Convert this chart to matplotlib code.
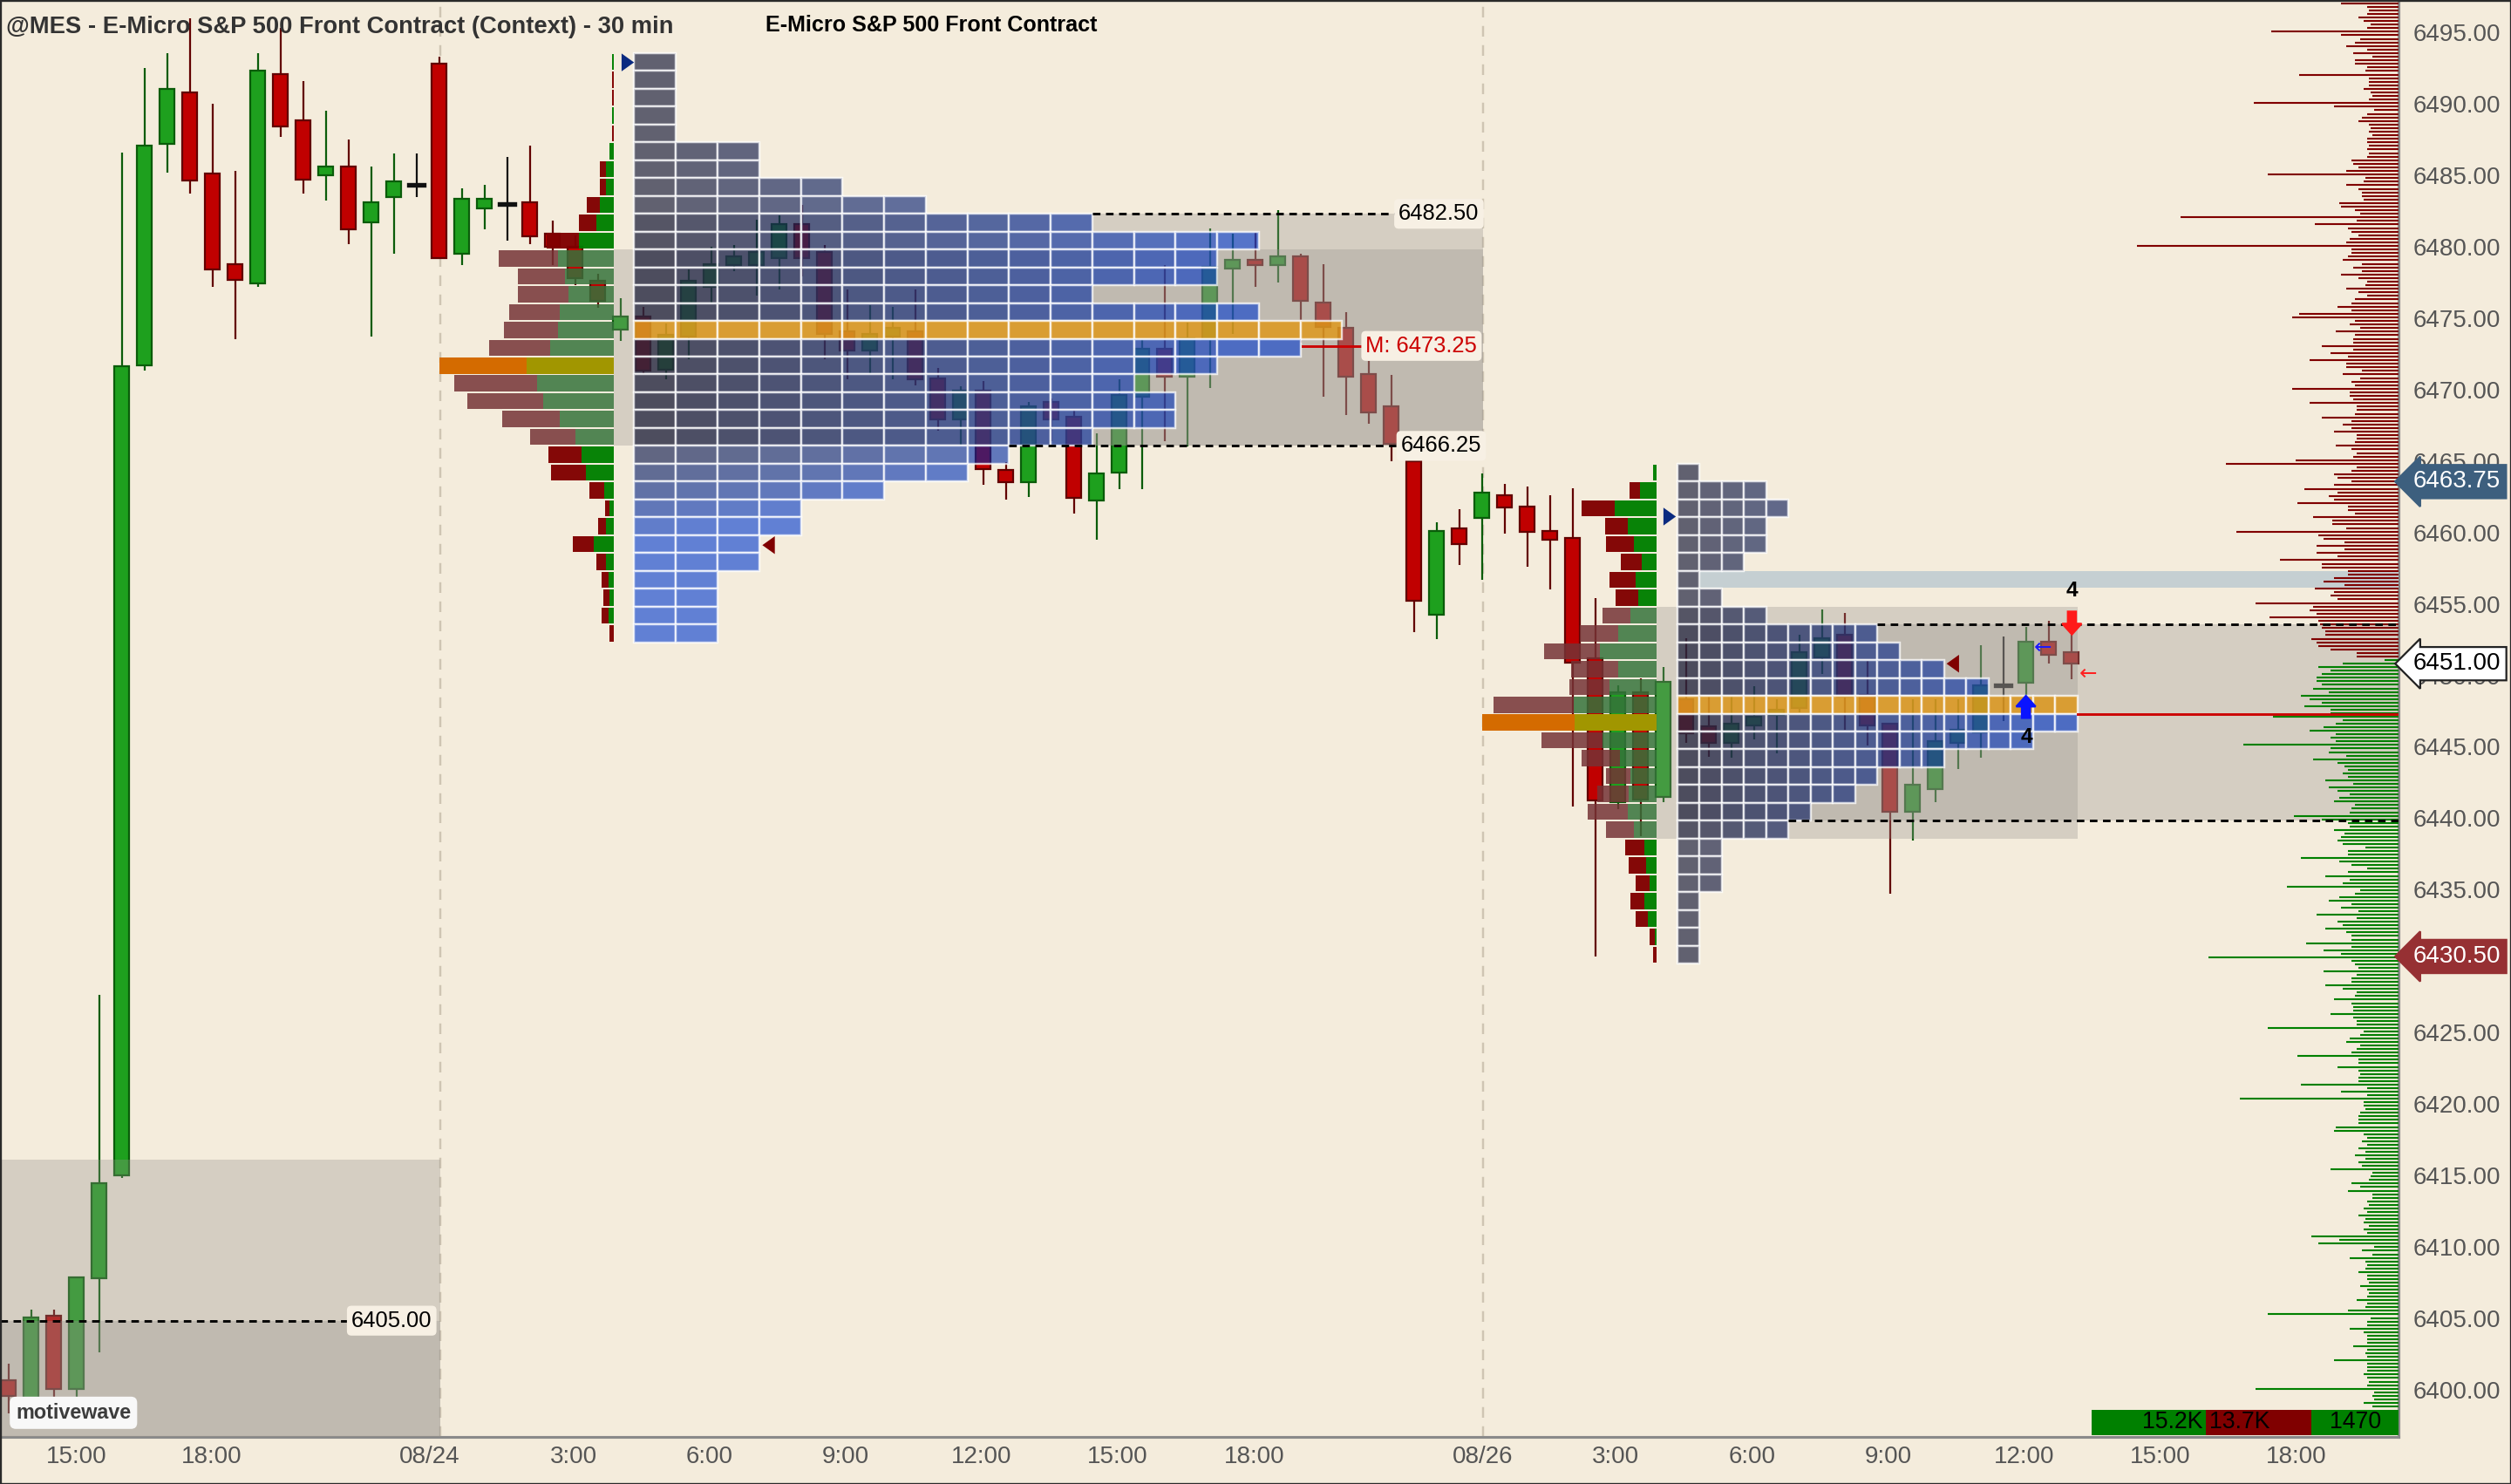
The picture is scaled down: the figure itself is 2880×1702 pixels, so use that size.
"""MES 30-min context chart: candles, session TPO / volume profiles, price histogram."""

import matplotlib
matplotlib.use("Agg")
import matplotlib.pyplot as plt
import matplotlib.transforms as mtransforms
import numpy as np
from matplotlib.collections import LineCollection
from matplotlib.patches import FancyArrow, Polygon, Rectangle

plt.rcParams["font.family"] = ["Liberation Sans", "DejaVu Sans"]

# ---------------- candles (30 min bars) ----------------
BARS = list(range(92))
OPEN = [6400.8, 6399.5, 6405.35, 6400.2, 6407.97, 6415.2, 6471.9, 6487.4, 6491.0, 6485.3,
        6479.0, 6477.6, 6492.3, 6489.05, 6485.2, 6485.8, 6481.9, 6483.65, 6484.5, 6493.0,
        6479.7, 6482.9, 6483.2, 6483.3, 6481.1, 6480.2, 6477.8, 6474.4, 6475.3, 6471.6,
        6473.9, 6477.4, 6478.9, 6478.9, 6479.4, 6481.8, 6479.8, 6474.3, 6472.9, 6473.9,
        6474.3, 6471.0, 6468.1, 6470.1, 6464.55, 6463.7, 6469.3, 6468.3, 6462.4, 6464.4,
        6469.7, 6473.05, 6471.1, 6473.7, 6478.65, 6479.3, 6478.9, 6479.5, 6476.3, 6474.5,
        6471.3, 6469.0, 6465.2, 6454.4, 6460.5, 6461.2, 6462.8, 6462.0, 6460.3, 6459.8,
        6451.35, 6441.3, 6449.0, 6441.65, 6448.5, 6446.6, 6445.45, 6446.65, 6447.4, 6447.9,
        6451.45, 6453.0, 6448.8, 6446.8, 6440.66, 6442.2, 6445.45, 6446.2, 6449.5, 6449.65,
        6452.55, 6451.8]
HIGH = [6402.0, 6405.8, 6405.8, 6408.1, 6427.8, 6486.8, 6492.7, 6493.75, 6496.2, 6490.2,
        6485.5, 6493.75, 6495.5, 6491.8, 6489.7, 6487.7, 6485.8, 6486.75, 6486.75, 6493.5,
        6484.3, 6484.5, 6486.5, 6487.25, 6482.0, 6481.0, 6478.3, 6476.6, 6476.0, 6474.8,
        6478.6, 6480.2, 6480.3, 6482.1, 6482.4, 6483.1, 6480.3, 6477.2, 6476.1, 6476.0,
        6477.2, 6471.7, 6470.4, 6470.8, 6465.1, 6469.3, 6469.6, 6468.8, 6467.1, 6470.9,
        6473.7, 6478.9, 6474.9, 6481.5, 6481.1, 6481.2, 6482.75, 6479.7, 6479.0, 6475.6,
        6472.2, 6471.2, 6465.5, 6460.9, 6461.8, 6464.3, 6463.6, 6463.4, 6462.8, 6463.3,
        6455.6, 6449.5, 6450.0, 6450.75, 6452.8, 6448.7, 6448.7, 6449.4, 6448.5, 6453.0,
        6454.8, 6454.55, 6451.2, 6446.8, 6448.5, 6448.5, 6448.5, 6452.3, 6452.9, 6453.6,
        6454.0, 6453.0]
LOW = [6398.5, 6399.2, 6399.6, 6399.5, 6402.8, 6415.0, 6471.5, 6485.4, 6483.9, 6477.4,
       6473.7, 6477.4, 6487.9, 6483.9, 6483.4, 6480.4, 6473.9, 6479.7, 6483.65, 6479.4,
       6478.9, 6481.4, 6480.6, 6480.4, 6478.9, 6477.5, 6475.9, 6473.6, 6471.3, 6470.9,
       6472.3, 6476.2, 6478.5, 6476.8, 6477.2, 6478.1, 6472.3, 6470.9, 6471.2, 6470.9,
       6470.5, 6467.3, 6466.2, 6463.5, 6462.5, 6462.7, 6466.6, 6461.5, 6459.7, 6463.2,
       6463.2, 6466.6, 6466.2, 6470.3, 6474.1, 6477.4, 6477.7, 6473.5, 6469.7, 6468.4,
       6467.8, 6465.2, 6453.2, 6452.7, 6457.9, 6456.9, 6460.1, 6457.8, 6456.2, 6441.0,
       6430.5, 6440.8, 6438.9, 6441.3, 6445.45, 6444.5, 6444.4, 6445.7, 6444.75, 6447.6,
       6450.3, 6446.4, 6445.3, 6434.9, 6438.6, 6441.3, 6443.6, 6444.4, 6447.0, 6448.0,
       6451.0, 6449.9]
CLOSE = [6399.7, 6405.2, 6400.2, 6408.05, 6414.6, 6471.8, 6487.3, 6491.25, 6484.85, 6478.6,
         6477.9, 6492.5, 6488.6, 6484.9, 6485.8, 6481.4, 6483.3, 6484.75, 6484.5, 6479.4,
         6483.55, 6483.55, 6483.2, 6480.9, 6480.2, 6478.0, 6476.4, 6475.3, 6471.5, 6474.0,
         6477.8, 6479.0, 6479.5, 6479.8, 6481.8, 6479.4, 6474.1, 6472.9, 6474.1, 6474.5,
         6470.9, 6468.1, 6470.1, 6464.65, 6463.7, 6469.0, 6468.1, 6462.6, 6464.3, 6469.8,
         6473.05, 6471.1, 6473.8, 6478.8, 6479.3, 6478.9, 6479.5, 6476.4, 6474.6, 6471.1,
         6468.6, 6466.4, 6455.4, 6460.3, 6459.4, 6463.0, 6461.95, 6460.2, 6459.65, 6451.1,
         6441.4, 6449.0, 6441.5, 6449.75, 6446.15, 6445.45, 6446.8, 6447.3, 6447.8, 6451.8,
         6452.8, 6448.7, 6446.65, 6440.66, 6442.5, 6445.6, 6446.35, 6449.5, 6449.5, 6452.55,
         6451.6, 6451.0]

TIME_TICKS = [3.39, 9.33, 18.95, 25.29, 31.30, 37.30, 43.31, 49.31, 55.32,
              65.42, 71.28, 77.29, 83.29, 89.30, 95.30, 101.31]
TIME_LABELS = ["15:00", "18:00", "08/24", "3:00", "6:00", "9:00", "12:00", "15:00", "18:00",
               "08/26", "3:00", "6:00", "9:00", "12:00", "15:00", "18:00"]
# 6430.00 sits fully under the 6430.50 tag in the reference, so it is not drawn
PRICE_TICKS = [p for p in range(6400, 6496, 5) if p != 6430]
DAY_BREAKS = [19.43, 65.42]

# ---------------- 08/24 session profile (1.25 pt rows from 6493.75 down) ----------------
S1_TOP = 6493.75
S1_SELL = [0.5, 2, 2, 0, 2, 0, 7, 7, 15, 20, 37, 68, 54, 58, 58, 62, 70, 100, 95, 87,
           66, 52, 38, 40, 17, 5, 9, 24, 11, 8, 7, 8, 5]
S1_BUY = [1.5, 0, 0, 2, 0, 4.5, 9, 9, 16, 20, 40, 64, 56, 52, 62, 64, 73, 100, 88, 81,
          62, 44, 37, 32, 11, 5, 9, 23, 9, 6, 5, 6, 0]
S1_TPO = [1, 1, 1, 1, 1, 3, 3, 5, 7, 11, 15, 14, 14, 11, 15, 17, 16, 14, 12, 13, 13,
          11, 9, 8, 6, 4, 4, 3, 3, 2, 2, 2, 2]
S1_VA = (11, 21)
S1_VPOC = 17
S1_TPOC = 15

# ---------------- 08/26 session profile (1.25 pt rows from 6465.00 down) ----------------
S2_TOP = 6465.0
S2_SELL = [0, 12, 38, 26, 32, 24, 30, 26, 32, 44, 64, 54, 46, 92, 106, 70, 44, 28, 36, 46,
           32, 22, 20, 16, 16, 14, 6, 3.4]
S2_BUY = [3.4, 19, 48, 33, 26, 17, 24, 21, 30, 44, 65, 44, 54, 95, 94, 62, 42, 30, 32, 33,
          26, 14, 12, 8, 14, 10, 2, 0]
S2_TPO = [1, 4, 5, 4, 4, 3, 1, 2, 4, 9, 10, 12, 14, 18, 18, 16, 12, 9, 8, 6, 5, 2, 2, 2,
          1, 1, 1, 1]
S2_VA = (8, 20)
S2_VPOC = 14
S2_TPOC = 13

# ---------------- volume-at-price histogram at the price axis ----------------
RED_HIST = [66, 36, 34, 36, 46, 40, 32, 36, 146, 66, 44, 50, 60, 36, 52, 30, 50, 50, 36, 38,
            114, 34, 34, 34, 40, 32, 30, 34, 166, 74, 28, 36, 42, 46, 34, 32, 34, 30, 36, 36,
            34, 36, 34, 36, 54, 52, 46, 60, 150, 38, 40, 60, 46, 42, 42, 40, 68, 66, 50, 44,
            250, 48, 96, 58, 54, 46, 56, 60, 300, 54, 54, 58, 64, 42, 52, 42, 66, 46, 36, 38,
            60, 46, 36, 50, 54, 70, 54, 114, 122, 50, 56, 44, 72, 50, 52, 52, 88, 52, 78, 58,
            102, 60, 60, 42, 64, 44, 54, 50, 122, 56, 56, 52, 102, 48, 48, 50, 88, 54, 64, 54,
            74, 48, 48, 50, 72, 54, 48, 52, 118, 198, 48, 54, 74, 70, 54, 74, 108, 70, 80, 74,
            116, 58, 58, 50, 98, 76, 76, 60, 186, 92, 86, 62, 94, 62, 94, 70, 136, 88, 88, 58,
            58, 74, 86, 62, 96, 74, 78, 70, 164, 98, 102, 94, 148, 92, 90, 88, 84, 84, 100, 94,
            92, 78, 48, 48]
GREEN_HIST = [16, 64, 92, 78, 88, 94, 94, 88, 98, 80, 112, 102, 88, 108, 78, 78,
              144, 64, 72, 86, 102, 72, 78, 72, 178, 78, 80, 60, 98, 70, 62, 58, 64, 58, 84, 52,
              80, 70, 56, 68, 74, 50, 54, 56, 120, 88, 58, 56, 74, 62, 66, 70, 64, 38, 58,
              58, 112, 68, 54, 36, 58, 84, 56, 64, 128, 44, 50, 68, 80, 54, 66, 46, 94, 48, 70,
              64, 84, 60, 54, 54, 106, 54, 86, 66, 218, 54, 50, 46, 86, 48, 54, 54, 84, 64, 48,
              50, 74, 54, 52, 52, 78, 52, 48, 48, 150, 40, 44, 56, 60, 44, 48, 54, 116, 46, 46,
              70, 46, 44, 46, 46, 112, 36, 66, 36, 182, 40, 40, 38, 44, 46, 46, 46, 72, 74, 40,
              36, 42, 36, 46, 38, 50, 38, 46, 42, 78, 30, 32, 34, 54, 44, 58, 30, 30, 36, 34,
              40, 36, 46, 38, 40, 34, 40, 36, 100, 68, 92, 28, 42, 30, 56, 38, 36, 38, 46, 36,
              36, 34, 44, 36, 34, 36, 48, 36, 38, 58, 150, 32, 36, 36, 56, 40, 36, 36, 36, 52,
              36, 38, 36, 74, 36, 36, 36, 40, 36, 34, 36, 164, 28, 30, 28, 40, 30]

TAGS = [(6463.75, "6463.75", "#3d5f7e", "white", "#3d5f7e"),
        (6451.00, "6451.00", "white", "black", "#222222"),
        (6430.50, "6430.50", "#963033", "white", "#963033")]
VOL_BOXES = [("15.2K", "#008000"), ("13.7K", "#800000"), ("1470", "#008000")]

# ---------------- layout / style ----------------
BG = "#f4ecdc"
PX = 26.0                 # pixels per bar in the output image
X_OFF, BW = 0.37, 0.68
XMAX, YLIM = 2751 / PX, (6396.86, 6497.47)
ROW = 1.25
S1_PROF_X, S1_TPO_X, S1_TPO_W = 27.06, 27.98, 1.837
S2_PROF_X, S2_TPO_X, S2_TPO_W = 73.06, 73.99, 0.981
BOX = (150 / 255, 145 / 255, 140 / 255, 0.32)
TPO_DARK = np.array([0, 4, 40]) / 255
TPO_BLUE = np.array([0, 56, 207]) / 255
TPO_POC = (0.88, 0.59, 0.08, 0.8)


def draw_candles(ax):
    for i, o, h, l, c in zip(BARS, OPEN, HIGH, LOW, CLOSE):
        x = i + X_OFF
        if c > o:
            face, edge = "#1ea01e", "#0a5c0a"
        elif c < o:
            face, edge = "#c00000", "#620000"
        else:
            face, edge = None, "#111111"
        ax.plot([x, x], [l, h], color=edge, lw=1.0, zorder=2, solid_capstyle="butt")
        if face is None:
            ax.plot([x - BW / 2, x + BW / 2], [o, o], color=edge, lw=2.4, zorder=2.1)
        else:
            lo, hgt = min(o, c), max(abs(c - o), 0.15)
            ax.add_patch(Rectangle((x - BW / 2, lo), BW, hgt, fc=face, ec=edge,
                                   lw=1.0, zorder=2.1))


def draw_profile(ax, x_right, top, sell, buy, va, poc):
    for k, (s, b) in enumerate(zip(sell, buy)):
        y = top - ROW * (k + 1) + 0.06
        h = ROW - 0.12
        if k == poc:
            cs, cb = (0.83, 0.42, 0.0, 1.0), (0.63, 0.59, 0.0, 1.0)
        elif va[0] <= k <= va[1]:
            cs, cb = (0.46, 0.20, 0.21, 0.85), (0.21, 0.45, 0.23, 0.85)
        else:
            cs, cb = (0.50, 0.0, 0.0, 0.97), (0.0, 0.50, 0.0, 0.97)
        wb, ws = b / PX, s / PX
        ax.add_patch(Rectangle((x_right - wb, y), wb, h, fc=cb, ec="none", zorder=7))
        ax.add_patch(Rectangle((x_right - wb - ws, y), ws, h, fc=cs, ec="none", zorder=7))


def draw_tpo(ax, x0, w, top, counts, poc, shade):
    for k, n in enumerate(counts):
        y = top - ROW * (k + 1)
        for c in range(n):
            if k == poc:
                fc = TPO_POC
            else:
                t = min(max(shade(k, c), 0.0), 1.0)
                fc = tuple((1 - t) * TPO_DARK + t * TPO_BLUE) + (0.6,)
            ax.add_patch(Rectangle((x0 + c * w, y), w, ROW, fc=fc, ec=(1, 1, 1, 0.75),
                                   lw=1.1, zorder=6))


def level_line(ax, x0, x1, y, color="black"):
    ax.plot([x0, x1], [y, y], color=color, lw=1.3, ls=(0, (3, 2.2)), zorder=8)


def level_label(ax, x, y, text, color="black"):
    ax.text(x, y, text, fontsize=11.5, color=color, ha="left", va="center", zorder=9,
            bbox=dict(boxstyle="round,pad=0.2", fc="#f7f0e4", ec="none"))


def row_start(x0, w, top, counts, level):
    k = int(round((top - level) / ROW))
    return x0 + counts[k] * w


def triangle(ax, x, y, right, color):
    w, h = 0.55, 1.25
    pts = [(x, y - h / 2), (x, y + h / 2), (x + w, y)] if right else \
          [(x + w, y - h / 2), (x + w, y + h / 2), (x, y)]
    ax.add_patch(Polygon(pts, closed=True, fc=color, ec="none", zorder=9))


def main():
    fig = plt.figure(figsize=(18, 10.6375), dpi=160)
    fig.patch.set_facecolor(BG)
    ax = fig.add_axes([0, 54 / 1702, 2751 / 2880, 1648 / 1702])
    ax.set_facecolor(BG)
    ax.set_xlim(0, XMAX)
    ax.set_ylim(*YLIM)
    ax.set_xticks([])
    ax.set_yticks([])
    for side in ("top", "left"):
        ax.spines[side].set_visible(False)
    for side in ("right", "bottom"):
        ax.spines[side].set_color("#8a8a8a")
        ax.spines[side].set_linewidth(1.4)

    for xb in DAY_BREAKS:
        ax.axvline(xb, color="#cfc5b3", lw=1.1, ls=(0, (5, 4)), zorder=1)

    draw_candles(ax)

    # value-area / range boxes
    for (x0, x1, y0, y1) in [(0, 19.43, 6390, 6416.25), (0, 19.43, 6390, 6405.0),
                             (S1_PROF_X, 65.42, 6466.25, 6480.0),
                             (S1_TPO_X, 65.42, 6466.25, 6482.5),
                             (S2_PROF_X, S2_TPO_X + 18 * S2_TPO_W, 6438.75, 6455.0),
                             (S2_TPO_X, XMAX, 6440.0, 6453.75)]:
        ax.add_patch(Rectangle((x0, y0), x1 - x0, y1 - y0, fc=BOX, ec="none", zorder=3))

    # untested level band
    ax.add_patch(Rectangle((S2_TPO_X + S2_TPO_W, 6456.35), XMAX - S2_TPO_X - S2_TPO_W, 1.15,
                           fc="#c5cfd2", ec="none", zorder=3.5))

    draw_tpo(ax, S1_TPO_X, S1_TPO_W, S1_TOP, S1_TPO, S1_TPOC,
             lambda k, c: c / 14 + max(0, k - 21) * 0.18)
    draw_tpo(ax, S2_TPO_X, S2_TPO_W, S2_TOP, S2_TPO, S2_TPOC, lambda k, c: c / 16)
    draw_profile(ax, S1_PROF_X, S1_TOP, S1_SELL, S1_BUY, S1_VA, S1_VPOC)
    draw_profile(ax, S2_PROF_X, S2_TOP, S2_SELL, S2_BUY, S2_VA, S2_VPOC)

    # histogram at the price axis
    red_p = np.linspace(6497.25, 6451.5, len(RED_HIST))
    grn_p = np.linspace(6451.25, 6399.0, len(GREEN_HIST))
    for prices, lens, col in [(red_p, RED_HIST, "#800000"), (grn_p, GREEN_HIST, "#008000")]:
        segs = [[(XMAX - v / PX, p), (XMAX, p)] for p, v in zip(prices, lens)]
        ax.add_collection(LineCollection(segs, colors=col, linewidths=0.95, zorder=5))

    # levels and labels
    level_line(ax, 0, 15.4, 6405.0)
    level_label(ax, 15.5, 6405.0, "6405.00")
    level_line(ax, row_start(S1_TPO_X, S1_TPO_W, S1_TOP, S1_TPO, 6482.5), 61.6, 6482.5)
    level_label(ax, 61.7, 6482.5, "6482.50")
    level_line(ax, row_start(S1_TPO_X, S1_TPO_W, S1_TOP, S1_TPO, 6466.25), 61.7, 6466.25)
    level_label(ax, 61.8, 6466.25, "6466.25")
    ax.plot([57.45, 60.2], [6473.25, 6473.25], color="#cc0000", lw=1.3, zorder=8)
    level_label(ax, 60.25, 6473.25, "M: 6473.25", color="#cc0000")
    level_line(ax, row_start(S2_TPO_X, S2_TPO_W, S2_TOP, S2_TPO, 6453.75), XMAX, 6453.75)
    level_line(ax, row_start(S2_TPO_X, S2_TPO_W, S2_TOP, S2_TPO, 6440.0), XMAX, 6440.0)
    ax.plot([S2_TPO_X + 18 * S2_TPO_W, XMAX], [6447.5, 6447.5], color="#cc0000", lw=1.3,
            zorder=8)

    # markers
    triangle(ax, 27.42, 6493.1, True, "#0a2a80")
    triangle(ax, 73.38, 6461.3, True, "#0a2a80")
    triangle(ax, 33.63, 6459.3, False, "#800000")
    triangle(ax, 85.87, 6451.0, False, "#800000")
    ax.add_patch(FancyArrow(89.37, 6447.2, 0, 1.55, width=0.36, head_width=0.85,
                            head_length=0.75, length_includes_head=True, color="#0a14ff",
                            zorder=9))
    ax.add_patch(FancyArrow(91.4, 6454.65, 0, -1.6, width=0.36, head_width=0.85,
                            head_length=0.75, length_includes_head=True, color="#ff1a1a",
                            zorder=9))
    ax.text(91.4, 6456.1, "4", fontsize=11, weight="bold", ha="center", va="center", zorder=9)
    ax.text(89.4, 6445.85, "4", fontsize=11, weight="bold", ha="center", va="center", zorder=9)
    ax.text(90.1, 6452.1, "←", fontsize=11, color="#1a1aff", ha="center", va="center",
            family=["DejaVu Sans"], zorder=9)
    ax.text(92.1, 6450.3, "←", fontsize=11, color="#ff2020", ha="center", va="center",
            family=["DejaVu Sans"], zorder=9)

    # volume summary boxes
    edges = [92.27, 97.3, 101.96, XMAX]
    for (txt, col), x0, x1 in zip(VOL_BOXES, edges[:-1], edges[1:]):
        ax.add_patch(Rectangle((x0, 6397.0), x1 - x0, 1.75, fc=col, ec="none", zorder=9))
    ax.text(97.15, 6397.9, VOL_BOXES[0][0], ha="right", va="center", fontsize=12, zorder=10)
    ax.text(97.45, 6397.9, VOL_BOXES[1][0], ha="left", va="center", fontsize=12, zorder=10)
    ax.text(103.9, 6397.9, VOL_BOXES[2][0], ha="center", va="center", fontsize=12, zorder=10)

    ax.text(0.7, 6398.55, "motivewave", fontsize=10.5, weight="bold", color="#3c3c3c",
            va="center", zorder=10,
            bbox=dict(boxstyle="round,pad=0.3", fc="#f8f8f8", ec="none"))

    # axes labels
    tx = mtransforms.blended_transform_factory(ax.transData, ax.transAxes)
    for x, lab in zip(TIME_TICKS, TIME_LABELS):
        ax.text(x, -0.0139, lab, transform=tx, ha="center", va="center", fontsize=12.5,
                color="#555555", clip_on=False)
    ty = mtransforms.blended_transform_factory(ax.transAxes, ax.transData)
    for p in PRICE_TICKS:
        ax.text(1.0062, p, f"{p:.2f}", transform=ty, ha="left", va="center", fontsize=12.5,
                color="#555555", clip_on=False)
    for p, txt, fc, tc, ec in TAGS:
        ax.text(1.0062, p, txt, transform=ty, ha="left", va="center", fontsize=12.5,
                color=tc, clip_on=False, zorder=12,
                bbox=dict(boxstyle="larrow,pad=0.22", fc=fc, ec=ec, lw=1.0))

    fig.text(7 / 2880, 1 - 31 / 1702, "@MES - E-Micro S&P 500 Front Contract (Context) - 30 min",
             fontsize=12.3, weight="bold", color="#333333", ha="left", va="center")
    fig.text(878 / 2880, 1 - 29 / 1702, "E-Micro S&P 500 Front Contract", fontsize=11.3,
             weight="bold", color="black", ha="left", va="center")
    fig.add_artist(Rectangle((0, 0), 1, 1, transform=fig.transFigure, fill=False,
                             ec="#2a2a2a", lw=1.5))

    fig.savefig("out.png", dpi=160, facecolor=BG)


if __name__ == "__main__":
    main()
